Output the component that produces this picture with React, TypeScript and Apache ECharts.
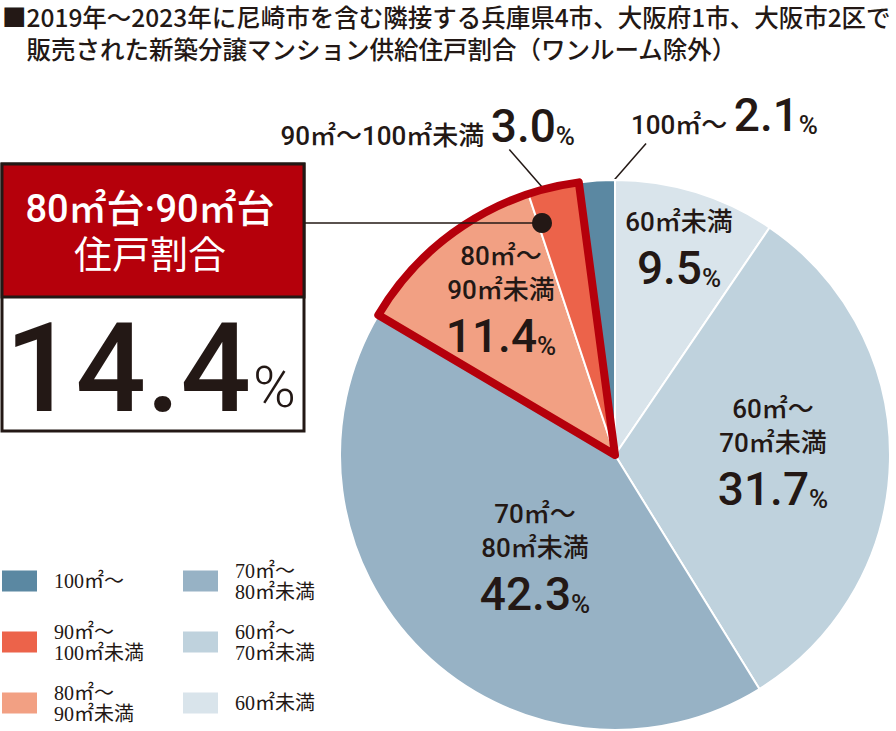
import React, { useEffect, useRef } from "react";
import * as echarts from "echarts";

// ---------- data ----------
const titleLines = [
  "■2019年～2023年に尼崎市を含む隣接する兵庫県4市、大阪府1市、大阪市2区で",
  "　販売された新築分譲マンション供給住戸割合（ワンルーム除外）",
];
const categories = [
  "60㎡未満",
  "60㎡～70㎡未満",
  "70㎡～80㎡未満",
  "80㎡～90㎡未満",
  "90㎡～100㎡未満",
  "100㎡～",
];
const labelNames = [
  "60㎡未満",
  "60㎡～\n70㎡未満",
  "70㎡～\n80㎡未満",
  "80㎡～\n90㎡未満",
  "90㎡～100㎡未満",
  "100㎡～",
];
const legendNames = [
  "60㎡未満",
  "60㎡～\n70㎡未満",
  "70㎡～\n80㎡未満",
  "80㎡～\n90㎡未満",
  "90㎡～\n100㎡未満",
  "100㎡～",
];
const shares = [9.5, 31.7, 42.3, 11.4, 3.0, 2.1];
const sliceColors = ["#d9e4eb", "#bfd2dd", "#97b2c5", "#f2a083", "#ec634a", "#5b88a2"];
const highlighted = [3, 4];
const highlightTitle = ["80㎡台·90㎡台", "住戸割合"];
const highlightShare = "14.4";
const legendColumns = [
  [5, 4, 3],
  [2, 1, 0],
];

// ---------- layout / style ----------
const CX = 615;
const CY = 455;
const R = 275;
const DARK = "#231815";
const RED = "#b5000b";
const F = "Roboto, 'Noto Sans CJK JP', sans-serif";
const LEGEND_FONT = "'Liberation Serif', 'Noto Sans CJK JP', serif";
const LEGEND_LEFT = [2, 183];
const LEGEND_CY = [581, 642, 703];
const INSIDE_POS: Record<number, [number, number]> = {
  0: [679, 248],
  1: [773, 452],
  2: [535, 557],
  3: [501, 299],
};
const OUTSIDE_POS: Record<number, { x: number; y: number; align: string; dir: number }> = {
  4: { x: 575, y: 123, align: "right", dir: -1 },
  5: { x: 631, y: 112, align: "left", dir: 1 },
};

const total = shares.reduce((a, b) => a + b, 0);
const midAngle = (i: number) => {
  const before = shares.slice(0, i).reduce((a, b) => a + b, 0);
  return ((before + shares[i] / 2) / total) * Math.PI * 2;
};

const rich = {
  t: { fontFamily: F, fontSize: 26, lineHeight: 34, color: DARK, fontWeight: 500 },
  ti: { fontFamily: F, fontSize: 26, lineHeight: 40, color: DARK, fontWeight: 500, verticalAlign: "bottom" },
  n: { fontFamily: F, fontSize: 46, lineHeight: 52, color: DARK, fontWeight: 500, verticalAlign: "bottom" },
  p: { fontFamily: F, fontSize: 26, lineHeight: 40, color: DARK, fontWeight: 500, verticalAlign: "bottom" },
};

function buildOption() {
  const mainData = categories.map((name, i) => {
    const item: any = {
      name,
      value: shares[i],
      itemStyle: { color: sliceColors[i] },
    };
    if (OUTSIDE_POS[i]) {
      item.label = { position: "outside" };
      item.labelLine = { show: true, lineStyle: { color: DARK, width: 1.5 } };
    }
    return item;
  });

  const hlStart = Math.min(...highlighted);
  const hlEnd = Math.max(...highlighted);
  const sum = (a: number, b: number) => shares.slice(a, b).reduce((x, y) => x + y, 0);
  const overlayData = [
    { name: "_before", value: sum(0, hlStart), itemStyle: { color: "rgba(0,0,0,0)", borderWidth: 0 } },
    {
      name: "_hl",
      value: sum(hlStart, hlEnd + 1),
      itemStyle: { color: "rgba(0,0,0,0)", borderColor: RED, borderWidth: 8, borderJoin: "round" },
    },
    { name: "_after", value: sum(hlEnd + 1, shares.length), itemStyle: { color: "rgba(0,0,0,0)", borderWidth: 0 } },
  ];

  const legends: any[] = [];
  legendColumns.forEach((col, c) => {
    col.forEach((idx, r) => {
      const lines = legendNames[idx].split("\n").length;
      legends.push({
        data: [categories[idx]],
        left: LEGEND_LEFT[c],
        top: LEGEND_CY[r] - (lines > 1 ? 21 : 10.5),
        padding: 0,
        orient: "vertical",
        icon: "rect",
        itemWidth: 35,
        itemHeight: 21,
        selectedMode: false,
        itemStyle: { borderWidth: 0 },
        formatter: (name: string) => legendNames[categories.indexOf(name)],
        textStyle: {
          fontFamily: LEGEND_FONT,
          fontSize: 20,
          lineHeight: 21,
          color: DARK,
          padding: [0, 0, 0, 12],
        },
      });
    });
  });

  return {
    animation: false,
    title: {
      text: titleLines.join("\n"),
      left: 2,
      top: 0,
      padding: 0,
      textStyle: {
        fontFamily: "'Noto Sans CJK JP', sans-serif",
        fontSize: 24.5,
        fontWeight: 500,
        lineHeight: 32,
        color: DARK,
      },
    },
    legend: legends,
    series: [
      {
        type: "pie",
        center: [CX, CY],
        radius: R,
        startAngle: 90,
        clockwise: true,
        avoidLabelOverlap: false,
        silent: true,
        itemStyle: { borderColor: "#ffffff", borderWidth: 2 },
        label: {
          show: true,
          position: "inside",
          formatter: (p: any) => {
            const i = p.dataIndex;
            const v = shares[i].toFixed(1);
            if (OUTSIDE_POS[i]) return `{ti|${labelNames[i]} }{n|${v}}{p|%}`;
            return (
              labelNames[i]
                .split("\n")
                .map((s) => `{t|${s}}`)
                .join("\n") + `\n{n|${v}}{p|%}`
            );
          },
          rich,
        },
        labelLine: { show: false },
        labelLayout: (p: any) => {
          const i = p.dataIndex;
          if (INSIDE_POS[i]) {
            return { x: INSIDE_POS[i][0], y: INSIDE_POS[i][1], align: "center", verticalAlign: "middle" };
          }
          const o = OUTSIDE_POS[i];
          if (!o) return {};
          const a = midAngle(i);
          const sx = CX + R * 0.935 * Math.sin(a);
          const sy = CY - R * 0.935 * Math.cos(a);
          const ex = sx + o.dir * 48;
          const ey = sy - 55;
          return {
            x: o.x,
            y: o.y,
            align: o.align,
            verticalAlign: "middle",
            labelLinePoints: [
              [sx, sy],
              [ex, ey],
              [ex, ey],
            ],
          };
        },
        data: mainData,
      },
      {
        type: "pie",
        center: [CX, CY],
        radius: R,
        startAngle: 90,
        clockwise: true,
        silent: true,
        label: { show: false },
        labelLine: { show: false },
        emphasis: { disabled: true },
        data: overlayData,
      },
    ],
    graphic: [
      {
        type: "rect",
        z: 50,
        shape: { x: 2, y: 164, width: 302, height: 267 },
        style: { fill: "#ffffff", stroke: DARK, lineWidth: 3 },
      },
      {
        type: "rect",
        z: 51,
        shape: { x: 2, y: 164, width: 302, height: 133 },
        style: { fill: RED, stroke: DARK, lineWidth: 3 },
      },
      {
        type: "text",
        z: 52,
        x: 150,
        y: 209,
        style: {
          text: highlightTitle[0],
          fill: "#ffffff",
          font: `500 38px ${F}`,
          align: "center",
          verticalAlign: "middle",
        },
      },
      {
        type: "text",
        z: 52,
        x: 150,
        y: 255,
        style: {
          text: highlightTitle[1],
          fill: "#ffffff",
          font: `400 38px ${F}`,
          align: "center",
          verticalAlign: "middle",
        },
      },
      {
        type: "text",
        z: 52,
        x: 5,
        y: 368,
        style: {
          text: highlightShare,
          fill: DARK,
          font: `500 124px ${F}`,
          align: "left",
          verticalAlign: "middle",
        },
      },
      {
        type: "text",
        z: 52,
        x: 253,
        y: 387,
        style: {
          text: "%",
          fill: DARK,
          font: `300 58px ${F}`,
          align: "left",
          verticalAlign: "middle",
        },
      },
      {
        type: "line",
        z: 60,
        shape: { x1: 304, y1: 223, x2: 542, y2: 223 },
        style: { stroke: DARK, lineWidth: 1.5 },
      },
      {
        type: "circle",
        z: 61,
        shape: { cx: 542, cy: 223, r: 10 },
        style: { fill: DARK },
      },
    ],
  };
}

export default function App() {
  const ref = useRef<HTMLDivElement>(null);
  useEffect(() => {
    if (!ref.current) return;
    const chart = echarts.init(ref.current, undefined, { renderer: "svg" });
    chart.setOption(buildOption() as any);
    return () => chart.dispose();
  }, []);
  return (
    <div
      ref={ref}
      style={{ position: "fixed", left: 0, top: 0, width: 896, height: 731, background: "#ffffff" }}
    />
  );
}
